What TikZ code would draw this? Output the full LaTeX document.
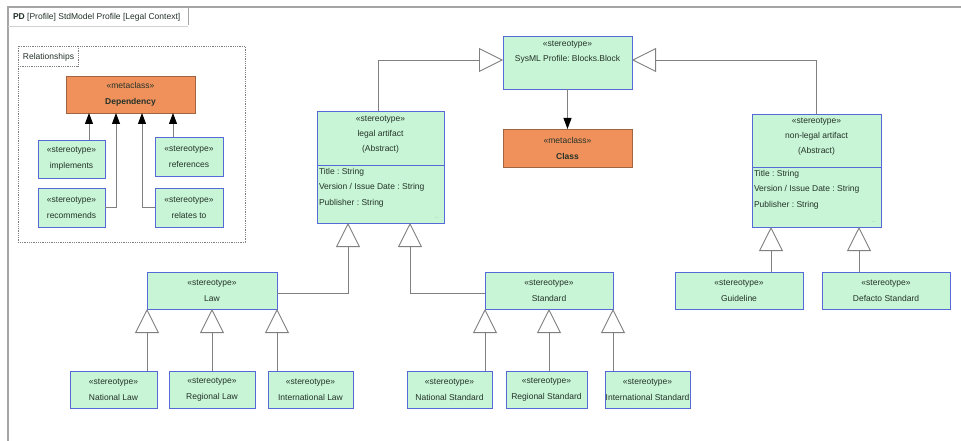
\documentclass[tikz,border=0pt]{standalone}
\usepackage{fontspec}
\setmainfont{Liberation Sans}
\usetikzlibrary{arrows.meta}
\frenchspacing
\definecolor{boxfill}{RGB}{200,245,214}
\definecolor{boxline}{RGB}{85,105,215}
\definecolor{metafill}{RGB}{240,145,92}
\definecolor{metaline}{RGB}{160,100,65}
\definecolor{conn}{RGB}{128,128,128}
\definecolor{txt}{RGB}{35,50,40}
\definecolor{framec}{RGB}{165,165,165}
\begin{document}
\begin{tikzpicture}[x=1pt,y=-1pt,
  every node/.style={font=\fontsize{8.5}{16}\selectfont, text=txt, inner sep=0pt, outer sep=0pt},
  stbox/.style={draw=boxline, fill=boxfill, line width=0.9pt, align=center},
  metabox/.style={draw=metaline, fill=metafill, line width=0.9pt, align=center},
  head/.style={align=center, font=\fontsize{8.5}{15}\selectfont},
  attrs/.style={anchor=west, align=left, font=\fontsize{8.5}{15.5}\selectfont},
  more/.style={text=conn, font=\fontsize{4}{4}\selectfont},
  gen/.style={draw=conn, line width=0.9pt, -{Triangle[length=24pt, width=24pt, fill=white]}},
  dep/.style={draw=conn, line width=0.9pt, -{Triangle[length=11pt, width=8pt, color=black]}},
  pkg/.style={draw=conn, densely dotted, line width=0.8pt},
]
\useasboundingbox (0,0) rectangle (961,441);
\fill[white] (0,0) rectangle (961,441);

% diagram frame and its title tab
\draw[framec, line width=1.4pt] (8,441) -- (8,7) -- (961,7);
\draw[framec, line width=1pt] (188,7) -- (188,25);
\draw[framec!50, line width=0.6pt] (8,26) -- (188,26);
\node[anchor=west] (title) at (13,17) {\textbf{PD} [Profile] StdModel Profile [Legal Context]};

% Relationships package
\draw[pkg] (18,46) rectangle (245,242);
\draw[pkg] (18,66) -- (78,66) -- (78,46);
\node[anchor=west] (pkgname) at (23,57) {Relationships};

\node[metabox, minimum width=129pt, minimum height=37pt] (dependency) at (130.5,94.5)
  {«metaclass»\\\textbf{Dependency}};
\node[stbox, minimum width=67pt, minimum height=38pt] (implements) at (71.5,159) {«stereotype»\\implements};
\node[stbox, minimum width=68pt, minimum height=39pt] (references) at (189,156.5) {«stereotype»\\references};
\node[stbox, minimum width=67pt, minimum height=39pt] (recommends) at (71.5,207.5) {«stereotype»\\recommends};
\node[stbox, minimum width=68pt, minimum height=39pt] (relates) at (189,207.5) {«stereotype»\\relates to};

\coordinate (d1) at ([xshift=-41.5pt]dependency.south);
\coordinate (d2) at ([xshift=-14.5pt]dependency.south);
\coordinate (d3) at ([xshift=11.5pt]dependency.south);
\coordinate (d4) at ([xshift=42.5pt]dependency.south);
\draw[dep] (implements.north -| d1) -- (d1);
\draw[dep] (recommends.east) -| (d2);
\draw[dep] (relates.west) -| (d3);
\draw[dep] (references.north -| d4) -- (d4);

% SysML block and metaclass
\node[stbox, minimum width=129pt, minimum height=53pt] (block) at (567.5,62.5) {};
\node[head, font=\fontsize{8.5}{14.5}\selectfont] (blocktext) at (567.5,52) {«stereotype»\\SysML Profile: Blocks.Block};
\node[metabox, minimum width=129pt, minimum height=38pt] (class) at (567.5,148)
  {«metaclass»\\\textbf{Class}};
\draw[dep] (block) -- (class);

% legal artifact
\node[stbox, minimum width=127pt, minimum height=112pt] (legal) at (380.5,167) {};
\draw[boxline, line width=0.9pt] (317,165) -- (444,165);
\node[head] (legalhead) at (380.5,134.5) {«stereotype»\\legal artifact\\(Abstract)};
\node[attrs] (legalattrs) at (319,187.5) {Title : String\\Version / Issue Date : String\\Publisher : String};
\node[more] (legalmore) at (437,218) {...};

% non-legal artifact
\node[stbox, minimum width=129pt, minimum height=113pt] (nonlegal) at (816.5,170.5) {};
\draw[boxline, line width=0.9pt] (752,167) -- (881,167);
\node[head] (nonlegalhead) at (816.5,137) {«stereotype»\\non-legal artifact\\(Abstract)};
\node[attrs] (nonlegalattrs) at (754,189.5) {Title : String\\Version / Issue Date : String\\Publisher : String};
\node[more] (nonlegalmore) at (874,222) {...};

\draw[gen] ([xshift=-2.5pt]legal.north) |- ([yshift=2.5pt]block.west);
\draw[gen] ([xshift=-0.5pt]nonlegal.north) |- ([yshift=2.5pt]block.east);

% second level
\node[stbox, minimum width=130pt, minimum height=37pt] (law) at (212,290.5) {«stereotype»\\Law};
\node[stbox, minimum width=128pt, minimum height=37pt] (standard) at (549,290.5) {«stereotype»\\Standard};
\node[stbox, minimum width=128pt, minimum height=37pt] (guideline) at (739,290.5) {«stereotype»\\Guideline};
\node[stbox, minimum width=128pt, minimum height=37pt] (defacto) at (886,290.5) {«stereotype»\\Defacto Standard};

\coordinate (l1) at ([xshift=-32.5pt]legal.south);
\coordinate (l2) at ([xshift=29.5pt]legal.south);
\draw[gen] ([yshift=-2.5pt]law.east) -| (l1);
\draw[gen] ([yshift=-2.5pt]standard.west) -| (l2);

\coordinate (n1) at ([xshift=-45.5pt]nonlegal.south);
\coordinate (n2) at ([xshift=42.5pt]nonlegal.south);
\draw[gen] (guideline.north -| n1) -- (n1);
\draw[gen] (defacto.north -| n2) -- (n2);

% leaves
\node[stbox, minimum width=87pt, minimum height=37pt] (natlaw) at (113.5,389.5) {«stereotype»\\National Law};
\node[stbox, minimum width=86pt, minimum height=37pt] (reglaw) at (212,389.5) {«stereotype»\\Regional Law};
\node[stbox, minimum width=85pt, minimum height=37pt] (intlaw) at (310.5,389.5) {«stereotype»\\International Law};
\node[stbox, minimum width=85pt, minimum height=37pt] (natstd) at (449.5,389.5) {«stereotype»\\National Standard};
\node[stbox, minimum width=81pt, minimum height=37pt] (regstd) at (546.5,389.5) {«stereotype»\\Regional Standard};
\node[stbox, minimum width=85pt, minimum height=37pt] (intstd) at (647.5,389.5) {«stereotype»\\International Standard};

\draw[gen] (natlaw.north -| law.south west) -- (law.south west);
\draw[gen] (reglaw.north -| law.south) -- (law.south);
\draw[gen] (intlaw.north -| law.south east) -- (law.south east);
\draw[gen] (natstd.north -| standard.south west) -- (standard.south west);
\draw[gen] (regstd.north -| standard.south) -- (standard.south);
\draw[gen] (intstd.north -| standard.south east) -- (standard.south east);
\end{tikzpicture}
\end{document}
